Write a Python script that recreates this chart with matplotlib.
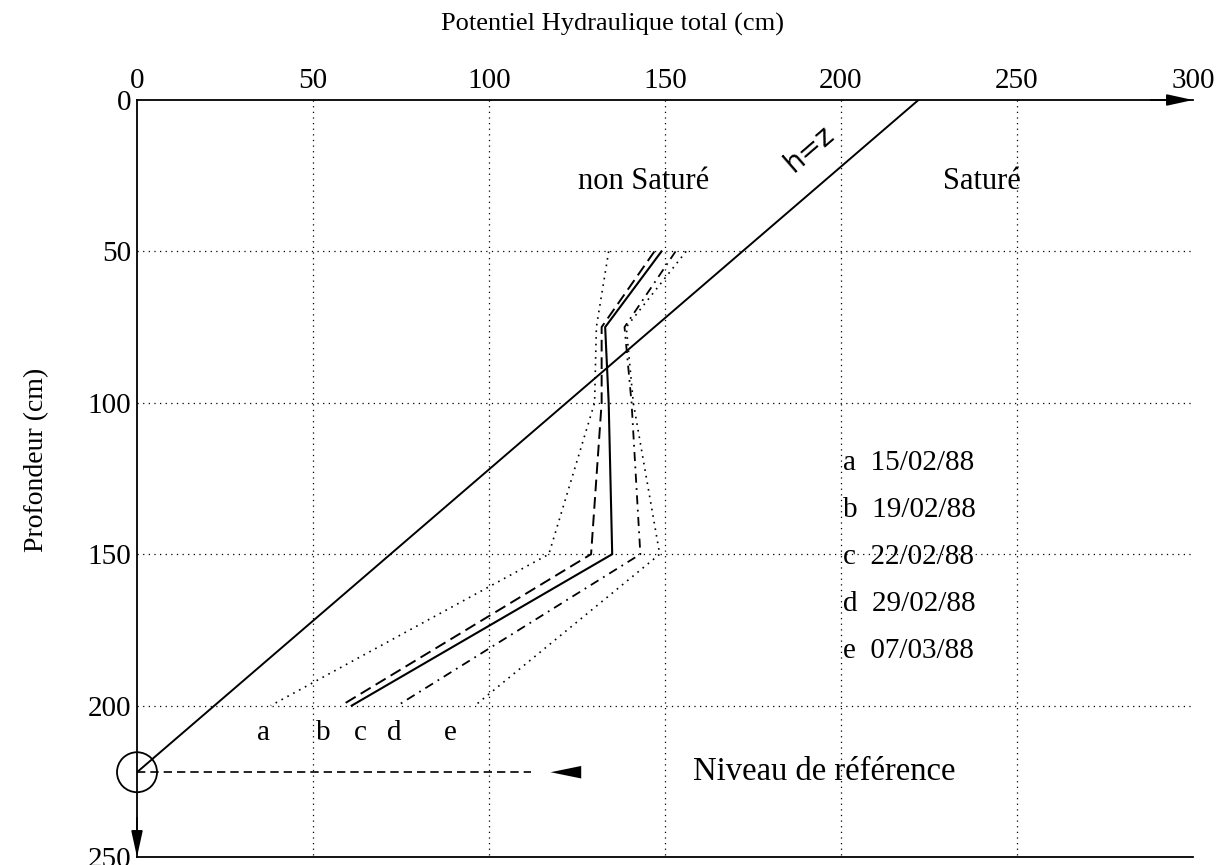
import matplotlib
matplotlib.use("Agg")
import matplotlib.pyplot as plt
from matplotlib.patches import Ellipse

plt.rcParams['font.family'] = ['Liberation Serif', 'DejaVu Serif']

# ---- data ----
depths = [50, 75, 100, 150, 200]
series_a = [134, 130.5, 130, 117, 38]
series_b = [147, 132, 132, 129, 58]
series_c = [149, 133, 134, 135, 61]
series_d = [153, 138.5, 140.5, 143, 74]
series_e = [156, 139, 141, 148.5, 96]
series_keys = ['a', 'b', 'c', 'd', 'e']
series_dates = ['15/02/88', '19/02/88', '22/02/88', '29/02/88', '07/03/88']
end_label_x = [36, 53, 63.5, 73, 89]
ref_level = 222           # niveau de référence (cm)
hz_line_x = [0, 222]
hz_line_y = [222, 0]
x_ticks = [0, 50, 100, 150, 200, 250, 300]
y_ticks = [0, 50, 100, 150, 200, 250]

fig = plt.figure(figsize=(12.25, 8.65), dpi=100)
ax = fig.add_axes([137/1225, 1 - 857/865, (1193-137)/1225, (857-100)/865])
ax.set_xlim(0, 300)
ax.set_ylim(250, 0)

# grid
for gx in [50, 100, 150, 200, 250]:
    ax.plot([gx, gx], [0, 250], color='black', lw=0.9, ls=(0, (1, 3.5)), zorder=1)
for gy in [50, 100, 150, 200]:
    ax.plot([0, 300], [gy, gy], color='black', lw=0.9, ls=(0, (1, 3.5)), zorder=1)

# spines
ax.spines['right'].set_visible(False)
for s in ['top', 'left', 'bottom']:
    ax.spines[s].set_linewidth(1.3)

ax.xaxis.tick_top()
ax.xaxis.set_label_position('top')
ax.set_xticks(x_ticks)
ax.set_yticks(y_ticks)
ax.tick_params(length=0, labelsize=21, pad=4)
ax.set_xlabel('Potentiel Hydraulique total (cm)', fontsize=19, labelpad=27, x=0.45)
ax.set_ylabel('Profondeur (cm)', fontsize=20, labelpad=28, y=0.524)
for lbl in ax.get_yticklabels():
    lbl.set_verticalalignment('center_baseline')

# axis arrows
ax.annotate('', xy=(300, 0), xytext=(288, 0), annotation_clip=False,
            arrowprops=dict(arrowstyle='-|>,head_length=1.6,head_width=0.35',
                            color='black', lw=1.2, shrinkA=0, shrinkB=0))
ax.annotate('', xy=(0, 250), xytext=(0, 237), annotation_clip=False,
            arrowprops=dict(arrowstyle='-|>,head_length=1.6,head_width=0.35',
                            color='black', lw=1.2, shrinkA=0, shrinkB=0))

# h = z line
ax.plot(hz_line_x, hz_line_y, color='black', lw=1.4, zorder=3)
ax.text(191, 16, 'h=z', rotation=40.8, fontsize=20, family='DejaVu Sans',
        ha='center', va='center', zorder=4)

# profiles
styles = [
    dict(ls=(0, (1, 3)), lw=1.2),
    dict(ls=(0, (6, 3)), lw=1.4),
    dict(ls='-', lw=1.5),
    dict(ls=(0, (5, 3, 1, 3)), lw=1.3),
    dict(ls=(0, (1, 3)), lw=1.2),
]
all_series = [series_a, series_b, series_c, series_d, series_e]
for vals, st in zip(all_series, styles):
    ax.plot(vals, depths, color='black', zorder=3, **st)

for k, xk in zip(series_keys, end_label_x):
    ax.text(xk, 209, k, fontsize=21, ha='center', va='center')

for i, (k, d) in enumerate(zip(series_keys, series_dates)):
    ax.text(200.5, 120 + 15.5 * i, f'{k}  {d}', fontsize=21, ha='left', va='center')

ax.text(144, 27, 'non Saturé', fontsize=22, ha='center', va='center')
ax.text(240, 27, 'Saturé', fontsize=22, ha='center', va='center')

# reference level
ax.plot([0, 112], [ref_level, ref_level], color='black', lw=1.2, ls=(0, (5, 3)), zorder=3)
ax.annotate('', xy=(117.5, ref_level), xytext=(127, ref_level),
            arrowprops=dict(arrowstyle='-|>,head_length=2.2,head_width=0.45',
                            color='black', lw=0.01, shrinkA=0, shrinkB=0))
ax.text(158, ref_level, 'Niveau de référence', fontsize=23.5, ha='left', va='center')
ax.add_patch(Ellipse((0, ref_level), 40/3.52, 40/3.03, fill=False, lw=1.3,
                     edgecolor='black', clip_on=False, zorder=4))

fig.savefig('out.png', dpi=100)
